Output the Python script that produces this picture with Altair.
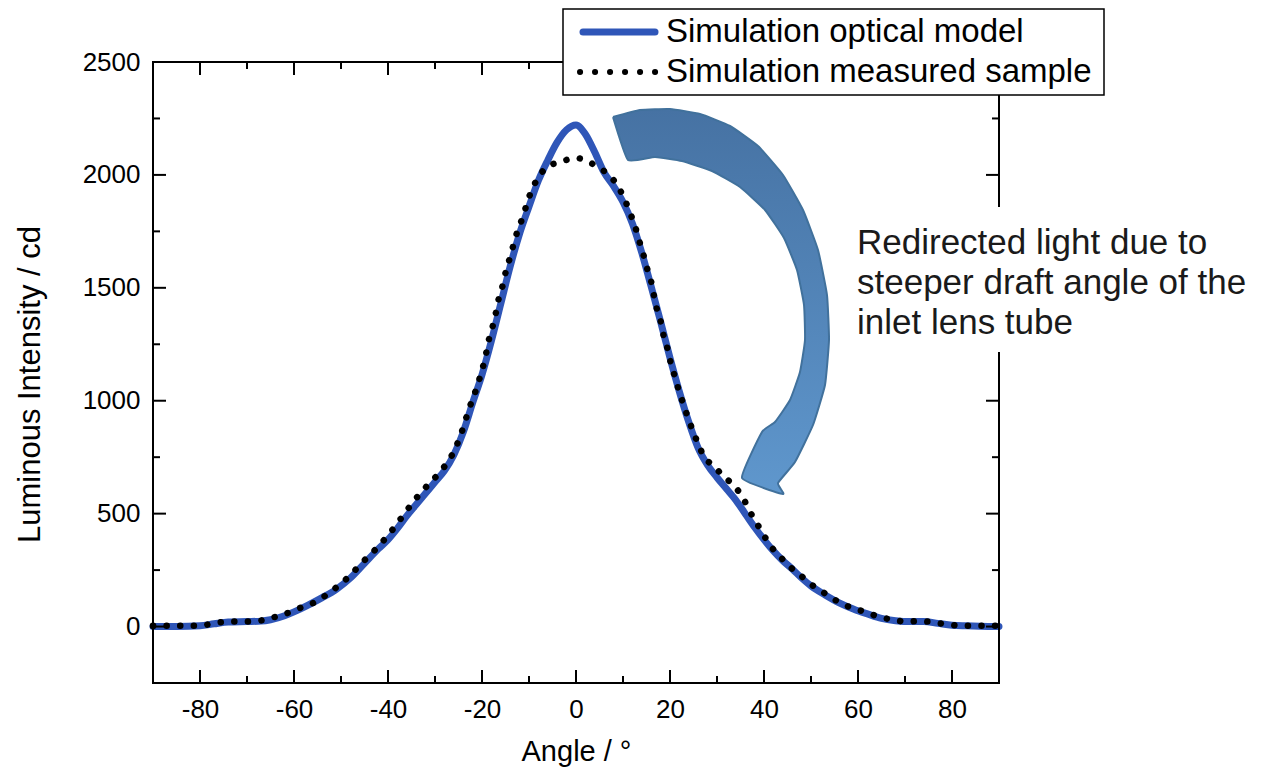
import altair as alt
import pandas as pd

# ---------------- data ----------------
model_angle = [-90, -85, -80, -77, -74, -70, -67, -65, -62, -60, -57, -54, -51, -48, -45,
               -42, -40, -38, -36, -34, -32, -30, -28, -26, -24, -22, -20, -18, -16, -14,
               -12, -10, -8, -6, -4, -2, 0, 2, 4, 6, 8, 10, 12, 14, 16, 18, 20, 22, 24,
               26, 28, 30, 32, 34, 36, 38, 40, 42, 44, 46, 48, 50, 53, 56, 59, 62, 65,
               68, 71, 74, 77, 80, 83, 86, 90]
model_value = [0, 0, 3, 12, 20, 22, 24, 30, 48, 65, 95, 128, 165, 215, 280,
               345, 385, 435, 490, 540, 590, 640, 690, 760, 860, 990, 1115, 1265, 1430, 1595,
               1740, 1860, 1975, 2065, 2145, 2200, 2221, 2180, 2100, 2010, 1950, 1880, 1785, 1655, 1505,
               1350, 1190, 1040, 905, 790, 715, 660, 610, 560, 500, 440, 385, 335, 292,
               255, 215, 180, 140, 105, 78, 56, 36, 26, 22, 22, 14, 6, 3, 1, 0]

sample_angle = [-90, -85, -80, -77, -74, -70, -67, -64.5, -62, -59, -56, -53.6, -51.3, -49, -47,
                -44.7, -42.5, -40.4, -38.5, -36.5, -34.5, -32.5, -30.5, -28.5, -26.5, -24.5, -23.5,
                -22.6, -21.5, -20.6, -19.8, -19.1, -18.5, -17.7, -17, -16.4, -15.5, -14.9, -14,
                -13.2, -12.3, -11.3, -10.4, -9.4, -7.9, -6.2, -3.2, 0, 2.3, 4.9, 7, 9.1, 10.4,
                11.5, 12.6, 13.4, 14.3, 15.1, 16, 16.6, 17.2, 18.1, 18.7, 19.6, 20.2, 21.1, 21.9,
                22.8, 25, 27.3, 29.4, 31.5, 33.8, 35.5, 37, 38.5, 40, 41.5, 43.4, 45.5, 48.1,
                50.4, 53, 55.7, 58.5, 61.3, 64.3, 67.2, 70.2, 73.2, 76.2, 79.1, 82.3, 85, 90]
sample_value = [3, 4, 4, 15, 22, 22, 27, 40, 55, 80, 103, 133, 168, 208, 250,
                300, 345, 394, 443, 500, 555, 605, 648, 695, 755, 850, 915,
                973, 1035, 1093, 1150, 1212, 1274, 1332, 1394, 1456, 1518, 1575, 1637,
                1699, 1761, 1814, 1876, 1934, 1991, 2035, 2058, 2075, 2062, 2031, 2000, 1943, 1889,
                1832, 1770, 1712, 1650, 1588, 1527, 1465, 1407, 1345, 1283, 1221, 1164, 1102, 1044,
                987, 860, 752, 708, 664, 619, 571, 509, 456, 403, 354, 310, 265, 221,
                181, 146, 111, 84, 66, 44, 31, 22, 24, 18, 9, 4, 4, 4]

x_major = [-80, -60, -40, -20, 0, 20, 40, 60, 80]
x_minor = [-70, -50, -30, -10, 10, 30, 50, 70]
y_major = [0, 500, 1000, 1500, 2000, 2500]
y_minor = [250, 750, 1250, 1750, 2250]

series_names = ["Simulation optical model", "Simulation measured sample"]
note_lines = ["Redirected light due to", "steeper draft angle of the", "inlet lens tube"]

# ---------------- layout / style ----------------
W, H = 846, 621
FONT = "Liberation Sans"
BLUE = "#2f56b8"
XDOM = [-90, 90]
YDOM = [-250, 2500]
xscale = alt.Scale(domain=XDOM, nice=False, zero=False)
yscale = alt.Scale(domain=YDOM, nice=False, zero=False)

model_df = pd.DataFrame({"angle": model_angle, "value": model_value})
sample_df = pd.DataFrame({"angle": sample_angle, "value": sample_value})
one = pd.DataFrame({"a": [0]})

xaxis = alt.Axis(values=x_major, title="Angle / °", domain=False, ticks=False, grid=False,
                 labelExpr="'' + datum.value",
                 labelFont=FONT, labelFontSize=26, labelColor="black", labelPadding=13,
                 labelFlush=False, titleFont=FONT, titleFontSize=29, titleFontWeight="normal",
                 titleColor="black", titleBaseline="middle", titleY=68)
yaxis = alt.Axis(values=y_major, title="Luminous Intensity / cd", domain=False, ticks=False,
                 grid=False, labelExpr="'' + datum.value",
                 labelFont=FONT, labelFontSize=26, labelColor="black",
                 labelPadding=13, labelFlush=False, titleFont=FONT, titleFontSize=31,
                 titleFontWeight="normal", titleColor="black", titleBaseline="middle",
                 titleX=-123, titleY=322)


def X(field):
    return alt.X(field, scale=xscale, axis=xaxis)


def Y(field):
    return alt.Y(field, scale=yscale, axis=yaxis)


model_line = alt.Chart(model_df).mark_line(
    color=BLUE, strokeWidth=7, interpolate="monotone", strokeCap="round", strokeJoin="round"
).encode(x=X("angle:Q"), y=Y("value:Q"))

sample_line = alt.Chart(sample_df).mark_line(
    color="black", strokeWidth=6.5, strokeDash=[0.1, 13.5], strokeCap="round",
    interpolate="monotone"
).encode(x=X("angle:Q"), y=Y("value:Q"))

# ---------------- curved block arrow (annotation shape) ----------------
def to_data(px, py):
    # convert page-pixel points to data units using the linear scales
    relx, rely = px - 153, py - 62
    return (XDOM[0] + relx * (XDOM[1] - XDOM[0]) / W,
            YDOM[1] - rely * (YDOM[1] - YDOM[0]) / H)

arrow_px = [(613, 117), (640, 110), (670, 109), (700, 114), (730, 126), (758, 146),
            (783, 175), (803, 210), (818, 250), (827, 295), (829, 340), (825, 385),
            (813, 425), (795, 462), (778, 483), (783, 494), (742, 478), (762, 432),
            (775, 422), (790, 400), (800, 372), (805, 340), (804, 305), (797, 270),
            (784, 238), (765, 210), (740, 187), (712, 171), (682, 161), (655, 157),
            (628, 160), (613, 117)]
arrow_pts = [to_data(px, py) for px, py in arrow_px]
arrow_df = pd.DataFrame({"i": list(range(len(arrow_pts))),
                         "ax": [p[0] for p in arrow_pts],
                         "ay": [p[1] for p in arrow_pts]})
grad = alt.Gradient(gradient="linear",
                    stops=[alt.GradientStop(color="#4672a3", offset=0),
                           alt.GradientStop(color="#5f97cd", offset=1)],
                    x1=0, x2=0, y1=0, y2=1)
arrow = alt.Chart(arrow_df).mark_line(
    fill=grad, stroke="#41719c", strokeWidth=2, strokeJoin="round", interpolate="cardinal",
    tension=0.6
).encode(x=X("ax:Q"), y=Y("ay:Q"), order=alt.Order("i:Q"))

# ---------------- frame and inward ticks ----------------
frame = alt.Chart(one).mark_rect(fillOpacity=0, stroke="black", strokeWidth=2).encode(
    x=alt.value(0), x2=alt.value(W), y=alt.value(0), y2=alt.value(H))


def xticks(vals, length):
    df = pd.DataFrame({"v": vals})
    b = alt.Chart(df).mark_rule(color="black", strokeWidth=2).encode(
        x=X("v:Q"), y=alt.value(H), y2=alt.value(H - length))
    t = alt.Chart(df).mark_rule(color="black", strokeWidth=2).encode(
        x=X("v:Q"), y=alt.value(0), y2=alt.value(length))
    return [b, t]


def yticks(vals, length):
    df = pd.DataFrame({"v": vals})
    l = alt.Chart(df).mark_rule(color="black", strokeWidth=2).encode(
        y=Y("v:Q"), x=alt.value(0), x2=alt.value(length))
    r = alt.Chart(df).mark_rule(color="black", strokeWidth=2).encode(
        y=Y("v:Q"), x=alt.value(W), x2=alt.value(W - length))
    return [l, r]


ticks = xticks(x_major, 13) + xticks(x_minor, 7) + yticks(y_major, 13) + yticks(y_minor, 7)

# ---------------- annotation text ----------------
note_bg = alt.Chart(one).mark_rect(color="white").encode(
    x=alt.value(697), x2=alt.value(1100), y=alt.value(145), y2=alt.value(290))
note = alt.Chart(one).mark_text(
    align="left", baseline="middle", font=FONT, fontSize=35, lineHeight=40, color="#1a1a1a"
).encode(x=alt.value(704), y=alt.value(181), text=alt.value(note_lines))

# ---------------- legend ----------------
leg_box = alt.Chart(one).mark_rect(fill="white", stroke="black", strokeWidth=1.5).encode(
    x=alt.value(410), x2=alt.value(951), y=alt.value(-53), y2=alt.value(33))
leg_blue = alt.Chart(one).mark_rule(color=BLUE, strokeWidth=7, strokeCap="round").encode(
    x=alt.value(430), x2=alt.value(502), y=alt.value(-30))
leg_dots = alt.Chart(one).mark_rule(color="black", strokeWidth=6, strokeDash=[0.1, 14.9],
                                    strokeCap="round").encode(
    x=alt.value(427), x2=alt.value(505), y=alt.value(10))
leg_t1 = alt.Chart(one).mark_text(align="left", baseline="middle", font=FONT, fontSize=33,
                                  color="black").encode(
    x=alt.value(513), y=alt.value(-30), text=alt.value(series_names[0]))
leg_t2 = alt.Chart(one).mark_text(align="left", baseline="middle", font=FONT, fontSize=33,
                                  color="black").encode(
    x=alt.value(513), y=alt.value(10), text=alt.value(series_names[1]))

chart = alt.layer(
    model_line, sample_line, arrow, frame, *ticks, note_bg, note,
    leg_box, leg_blue, leg_dots, leg_t1, leg_t2
).properties(
    width=W, height=H,
    autosize=alt.AutoSizeParams(type="none"),
    padding={"left": 145, "top": 54, "right": 256, "bottom": 84},
    background="white",
).configure_view(stroke=None)

chart.save("out.html", embed_options={"renderer": "svg", "actions": False})
